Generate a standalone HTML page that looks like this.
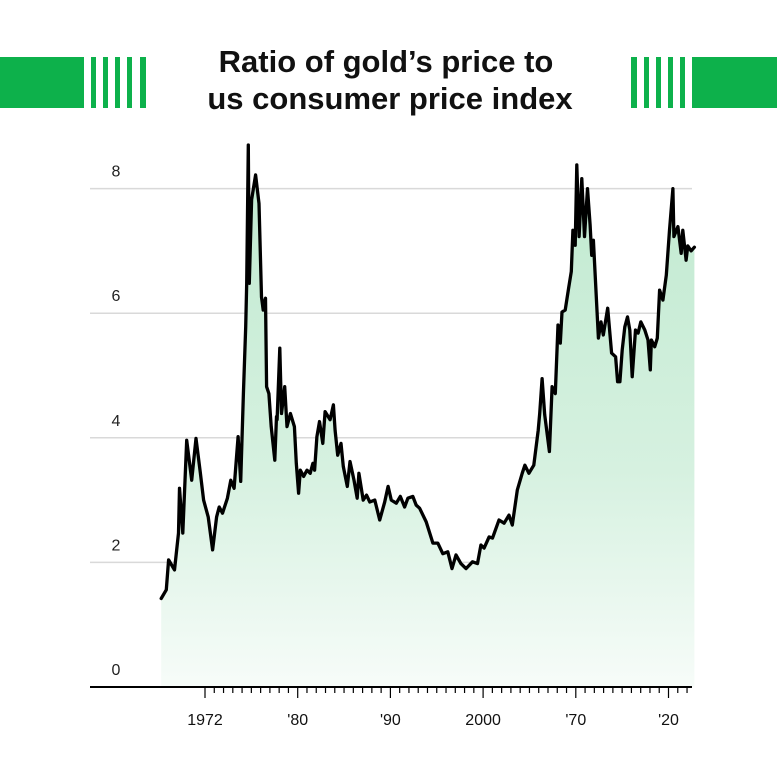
<!DOCTYPE html>
<html><head><meta charset="utf-8"><style>
html,body{margin:0;padding:0;background:#fff;}
svg{display:block;font-family:"Liberation Sans",sans-serif;}
</style></head><body>
<svg id="chart" width="777" height="777" viewBox="0 0 777 777">
<defs>
<linearGradient id="fillGrad" x1="0" y1="0" x2="0" y2="1">
<stop offset="0" stop-color="#bfe9cf"/>
<stop offset="0.6" stop-color="#d6f1e0"/>
<stop offset="1" stop-color="#f7fcf9"/>
</linearGradient>
</defs>
<g>
<rect x="0" y="57" width="84" height="51" fill="#0db14b"/>
<rect x="91" y="57" width="5" height="51" fill="#0db14b"/>
<rect x="103" y="57" width="5" height="51" fill="#0db14b"/>
<rect x="115" y="57" width="5" height="51" fill="#0db14b"/>
<rect x="127" y="57" width="5" height="51" fill="#0db14b"/>
<rect x="140" y="57" width="6" height="51" fill="#0db14b"/>
<rect x="631" y="57" width="6" height="51" fill="#0db14b"/>
<rect x="644" y="57" width="5" height="51" fill="#0db14b"/>
<rect x="656" y="57" width="5" height="51" fill="#0db14b"/>
<rect x="668" y="57" width="5" height="51" fill="#0db14b"/>
<rect x="680" y="57" width="5" height="51" fill="#0db14b"/>
<rect x="692" y="57" width="85" height="51" fill="#0db14b"/>
</g>
<text x="386" y="72" text-anchor="middle" font-size="31" font-weight="bold" fill="#111">Ratio of gold’s price to</text>
<text x="390" y="109" text-anchor="middle" font-size="31" font-weight="bold" fill="#111">us consumer price index</text>
<g id="grid"></g>
<g id="area"></g>
<g id="axes"></g>
</svg>
<script>
const yTicks = [0, 2, 4, 6, 8];
const xTickYears = [1970, 1980, 1990, 2000, 2010, 2020];
const xTickLabels = ["1972", "'80", "'90", "2000", "'70", "'20"];
const years = [1965.28,1965.82,1966.07,1966.71,1967.14,1967.25,1967.60,1968.03,1968.57,1969.03,1969.50,1969.85,1970.35,1970.82,1971.25,1971.53,1971.89,1972.42,1972.78,1973.14,1973.57,1973.85,1974.14,1974.39,1974.50,1974.67,1974.78,1975.03,1975.46,1975.82,1976.10,1976.28,1976.53,1976.64,1976.89,1977.14,1977.53,1977.71,1977.78,1978.07,1978.25,1978.60,1978.85,1979.21,1979.64,1979.85,1980.10,1980.28,1980.64,1981.00,1981.35,1981.64,1981.82,1982.07,1982.35,1982.71,1982.96,1983.50,1983.85,1984.03,1984.32,1984.67,1984.92,1985.35,1985.64,1986.07,1986.42,1986.60,1987.07,1987.42,1987.78,1988.32,1988.85,1989.39,1989.75,1990.10,1990.64,1991.07,1991.53,1991.89,1992.42,1992.78,1993.15,1993.86,1994.58,1995.11,1995.65,1996.19,1996.65,1997.08,1997.61,1998.15,1998.86,1999.40,1999.76,2000.11,2000.65,2001.01,2001.72,2002.26,2002.79,2003.15,2003.69,2004.22,2004.51,2004.94,2005.47,2005.94,2006.11,2006.36,2006.65,2007.15,2007.44,2007.79,2008.08,2008.33,2008.51,2008.86,2009.22,2009.51,2009.69,2009.94,2010.11,2010.36,2010.65,2010.94,2011.26,2011.54,2011.72,2011.90,2012.44,2012.72,2012.97,2013.44,2013.86,2014.29,2014.51,2014.76,2015.01,2015.29,2015.58,2015.83,2016.08,2016.44,2016.72,2017.01,2017.44,2017.79,2018.04,2018.15,2018.51,2018.79,2019.04,2019.40,2019.76,2020.11,2020.47,2020.58,2021.01,2021.37,2021.54,2021.90,2022.08,2022.44,2022.79];
const ratios = [1.42,1.56,2.04,1.88,2.47,3.19,2.47,3.96,3.32,3.99,3.43,3.00,2.73,2.20,2.73,2.89,2.79,3.03,3.32,3.19,4.02,3.30,4.71,5.78,6.48,8.70,6.48,7.82,8.22,7.76,6.26,6.05,6.24,4.82,4.71,4.18,3.64,4.34,4.29,5.44,4.39,4.82,4.18,4.39,4.18,3.59,3.11,3.48,3.38,3.48,3.43,3.59,3.48,4.02,4.26,3.91,4.42,4.29,4.53,4.12,3.72,3.91,3.54,3.22,3.62,3.32,3.03,3.43,3.00,3.08,2.97,3.00,2.68,2.97,3.22,3.00,2.95,3.06,2.89,3.03,3.06,2.92,2.87,2.65,2.31,2.31,2.14,2.17,1.90,2.12,1.98,1.90,2.01,1.98,2.28,2.23,2.41,2.39,2.68,2.63,2.76,2.60,3.16,3.43,3.56,3.43,3.56,4.12,4.39,4.95,4.37,3.78,4.82,4.71,5.81,5.52,6.02,6.05,6.40,6.67,7.33,7.09,8.38,7.23,8.16,7.23,8.00,7.42,6.93,7.17,5.60,5.86,5.65,6.08,5.36,5.30,4.90,4.90,5.41,5.78,5.94,5.73,4.98,5.73,5.68,5.86,5.73,5.57,5.09,5.57,5.46,5.60,6.37,6.21,6.61,7.33,8.00,7.23,7.39,6.96,7.33,6.85,7.08,7.00,7.06];

const NS = "http://www.w3.org/2000/svg";
function xScale(yr){ return 205 + (yr - 1970) * 9.27; }
function yScale(v){ return 687 - v * 62.3; }
function mk(tag, attrs, parent){
  const e = document.createElementNS(NS, tag);
  for (const k in attrs) e.setAttribute(k, attrs[k]);
  parent.appendChild(e);
  return e;
}
const grid = document.getElementById('grid');
const area = document.getElementById('area');
const axes = document.getElementById('axes');

yTicks.forEach(t => {
  if (t > 0) {
    const l = mk('line', {x1: 90, x2: 692, y1: yScale(t), y2: yScale(t), stroke: '#d9d9d9', 'stroke-width': 1.5}, grid);
    
    
  }
  const tx = mk('text', {x: 116, y: yScale(t) - 12, 'text-anchor': 'middle', 'font-size': 16, fill: '#222'}, grid);
  tx.textContent = t;
  
  
});

let d = '';
years.forEach((yr, i) => { d += (i ? 'L' : 'M') + xScale(yr).toFixed(1) + ',' + yScale(ratios[i]).toFixed(1); });
const lastX = xScale(years[years.length - 1]).toFixed(1);
const firstX = xScale(years[0]).toFixed(1);
const fill = mk('path', {d: d + 'L' + lastX + ',' + yScale(0) + 'L' + firstX + ',' + yScale(0) + 'Z', fill: 'url(#fillGrad)', stroke: 'none'}, area);


const line = mk('path', {d: d, fill: 'none', stroke: '#000', 'stroke-width': 3.3, 'stroke-linejoin': 'round', 'stroke-linecap': 'round'}, area);



const axis = mk('line', {x1: 90, x2: 692, y1: 687, y2: 687, stroke: '#000', 'stroke-width': 2}, axes);


for (let yr = 1970; yr <= 2022; yr++) {
  const major = xTickYears.indexOf(yr) >= 0;
  const tk = mk('line', {x1: xScale(yr), x2: xScale(yr), y1: 687, y2: major ? 698 : 693, stroke: '#000', 'stroke-width': 1.2}, axes);
  
  
}
xTickYears.forEach((yr, i) => {
  const tx = mk('text', {x: xScale(yr), y: 725, 'text-anchor': 'middle', 'font-size': 16, fill: '#111'}, axes);
  tx.textContent = xTickLabels[i];
  
  
});
</script>
</body></html>
